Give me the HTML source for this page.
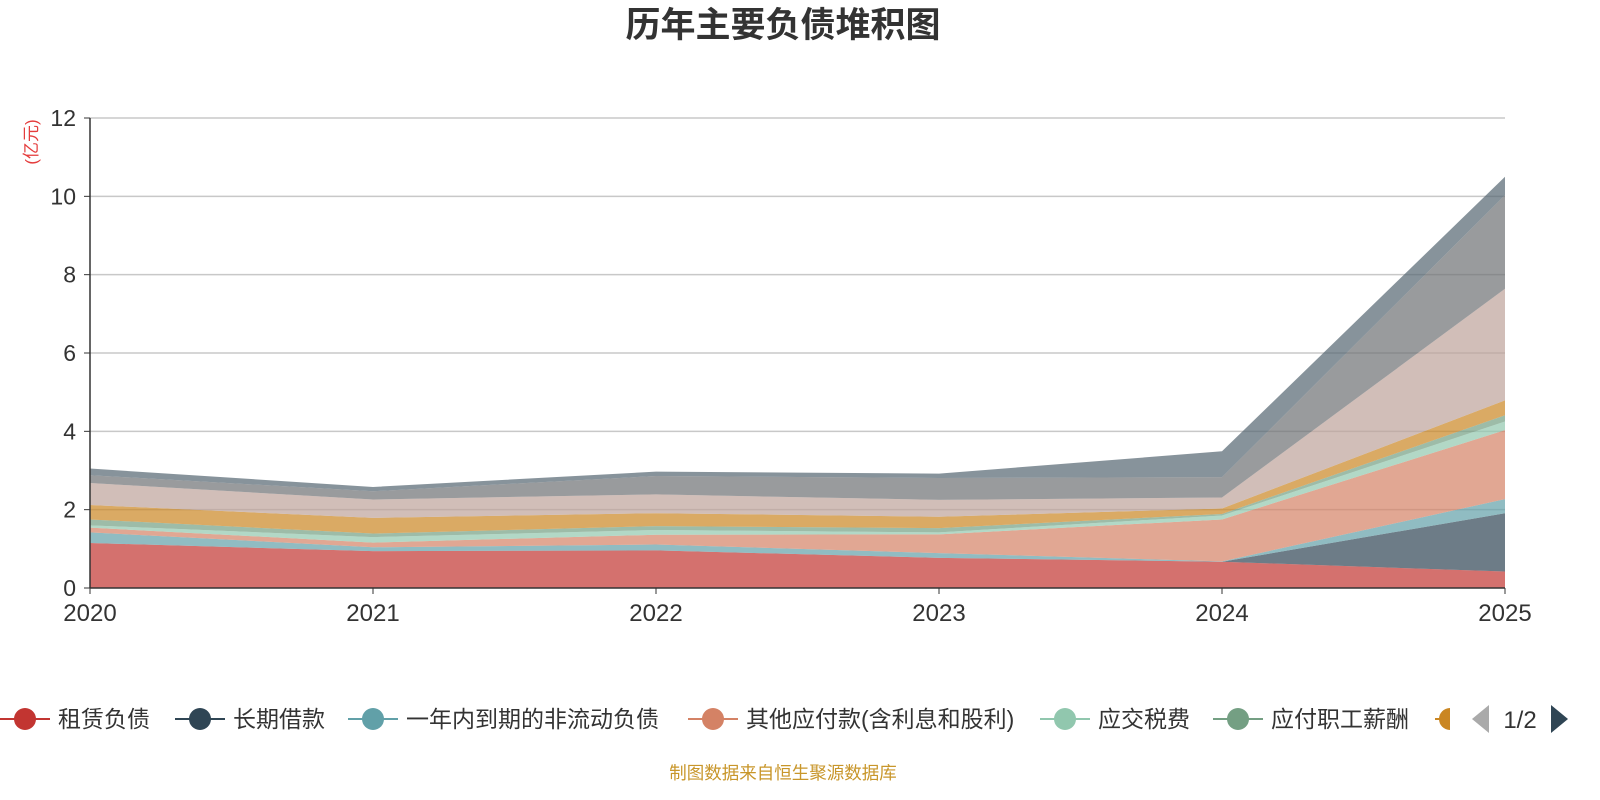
<!DOCTYPE html>
<html><head><meta charset="utf-8"><style>
html,body{margin:0;padding:0;background:#fff;}
svg{display:block;font-family:"Liberation Sans","Noto Sans CJK SC",sans-serif;}
</style></head><body>
<svg id="chart" width="1600" height="800">
<text x="783" y="37" text-anchor="middle" font-size="35" font-weight="bold" fill="#333">历年主要负债堆积图</text>
<text transform="translate(37,142) rotate(-90)" text-anchor="middle" font-size="17" fill="#e43c3c">(亿元)</text>
<g id="grid"></g><g id="areas"></g><g id="axes"></g><g id="legend"></g>
<text x="783" y="779" text-anchor="middle" font-size="17.5" fill="#c8962a">制图数据来自恒生聚源数据库</text>
</svg>
<script>
const years = ["2020","2021","2022","2023","2024","2025"];
const yTicks = [0,2,4,6,8,10,12];
const names = ["租赁负债","长期借款","一年内到期的非流动负债","其他应付款(含利息和股利)","应交税费","应付职工薪酬","应付账款","合同负债","短期借款","其他流动负债"];
const colors = ["#c23531","#2f4554","#61a0a8","#d48265","#91c7ae","#749f83","#ca8622","#bda29a","#6e7074","#546570"];
const s0 = [1.15,0.94,0.96,0.77,0.67,0.42];
const s1 = [0,0,0,0,0,1.49];
const s2 = [0.27,0.10,0.15,0.12,0.01,0.36];
const s3 = [0.12,0.12,0.25,0.48,1.07,1.76];
const s4 = [0.06,0.14,0.12,0.05,0.10,0.22];
const s5 = [0.15,0.09,0.10,0.11,0.04,0.16];
const s6 = [0.37,0.40,0.33,0.29,0.14,0.38];
const s7 = [0.56,0.47,0.48,0.43,0.28,2.85];
const s8 = [0.20,0.21,0.47,0.56,0.52,2.39];
const s9 = [0.17,0.11,0.11,0.11,0.66,0.47];
const series = [s0,s1,s2,s3,s4,s5,s6,s7,s8,s9];

const NS="http://www.w3.org/2000/svg";
const X0=90,X1=1505,Y0=588,Y1=118,YMAX=12;
const xs=i=>X0+(X1-X0)*i/(years.length-1);
const ys=v=>Y0-(Y0-Y1)*v/YMAX;
function mk(tag,attrs,parent){const e=document.createElementNS(NS,tag);for(const k in attrs)e.setAttribute(k,attrs[k]);parent.appendChild(e);return e;}
const grid=document.getElementById('grid'),areas=document.getElementById('areas'),axes=document.getElementById('axes'),legend=document.getElementById('legend');
yTicks.forEach(t=>{
  if(t>0){const g=mk('line',{x1:X0,x2:X1,y1:ys(t),y2:ys(t),stroke:'#c8c8c8','stroke-width':1.5},grid);
  
  }
  mk('line',{x1:X0-6,x2:X0,y1:ys(t),y2:ys(t),stroke:'#333'},axes);
  const l=mk('text',{x:X0-14,y:ys(t)+8,'text-anchor':'end','font-size':23,fill:'#333'},axes);l.textContent=t;
  
  
});
let base=years.map(()=>0);
series.forEach((s,k)=>{
  const top=base.map((b,i)=>b+s[i]);
  let pts=top.map((v,i)=>xs(i)+','+ys(v));
  for(let i=years.length-1;i>=0;i--)pts.push(xs(i)+','+ys(base[i]));
  const p=mk('polygon',{points:pts.join(' '),fill:colors[k],'fill-opacity':0.7},areas);
  
  
  base=top;
});
mk('line',{x1:X0,x2:X0,y1:Y1,y2:Y0,stroke:'#333','stroke-width':1.5},axes);
mk('line',{x1:X0,x2:X1,y1:Y0,y2:Y0,stroke:'#333','stroke-width':1.5},axes);
years.forEach((y,i)=>{
  mk('line',{x1:xs(i),x2:xs(i),y1:Y0,y2:Y0+6,stroke:'#333'},axes);
  const l=mk('text',{x:xs(i),y:Y0+33,'text-anchor':'middle','font-size':24,fill:'#333'},axes);l.textContent=y;
  
  
});
const legX=[0,175,348,688,1040,1213,1425];
legX.forEach((x,k)=>{
  const g=mk('g',{},legend);
  
  
  if(k<6){
    mk('line',{x1:x,x2:x+50,y1:719,y2:719,stroke:colors[k],'stroke-width':2},g);
    mk('circle',{cx:x+25,cy:719,r:11,fill:colors[k]},g);
    const t=mk('text',{x:x+58,y:727,'font-size':23,fill:'#333'},g);t.textContent=names[k];
  } else {
    mk('line',{x1:1435,x2:1450,y1:719,y2:719,stroke:colors[6],'stroke-width':2},g);
    mk('path',{d:'M1450 708 A11 11 0 0 0 1450 730 Z',fill:colors[6]},g);
  }
});
const pl=mk('polygon',{points:'1472,719 1489,705 1489,733',fill:'#aaa'},legend);


const pt=mk('text',{x:1520,y:728,'text-anchor':'middle','font-size':24,fill:'#333'},legend);pt.textContent='1/2';


const pr=mk('polygon',{points:'1568,719 1551,705 1551,733',fill:'#2f4554'},legend);


</script>
</body></html>
